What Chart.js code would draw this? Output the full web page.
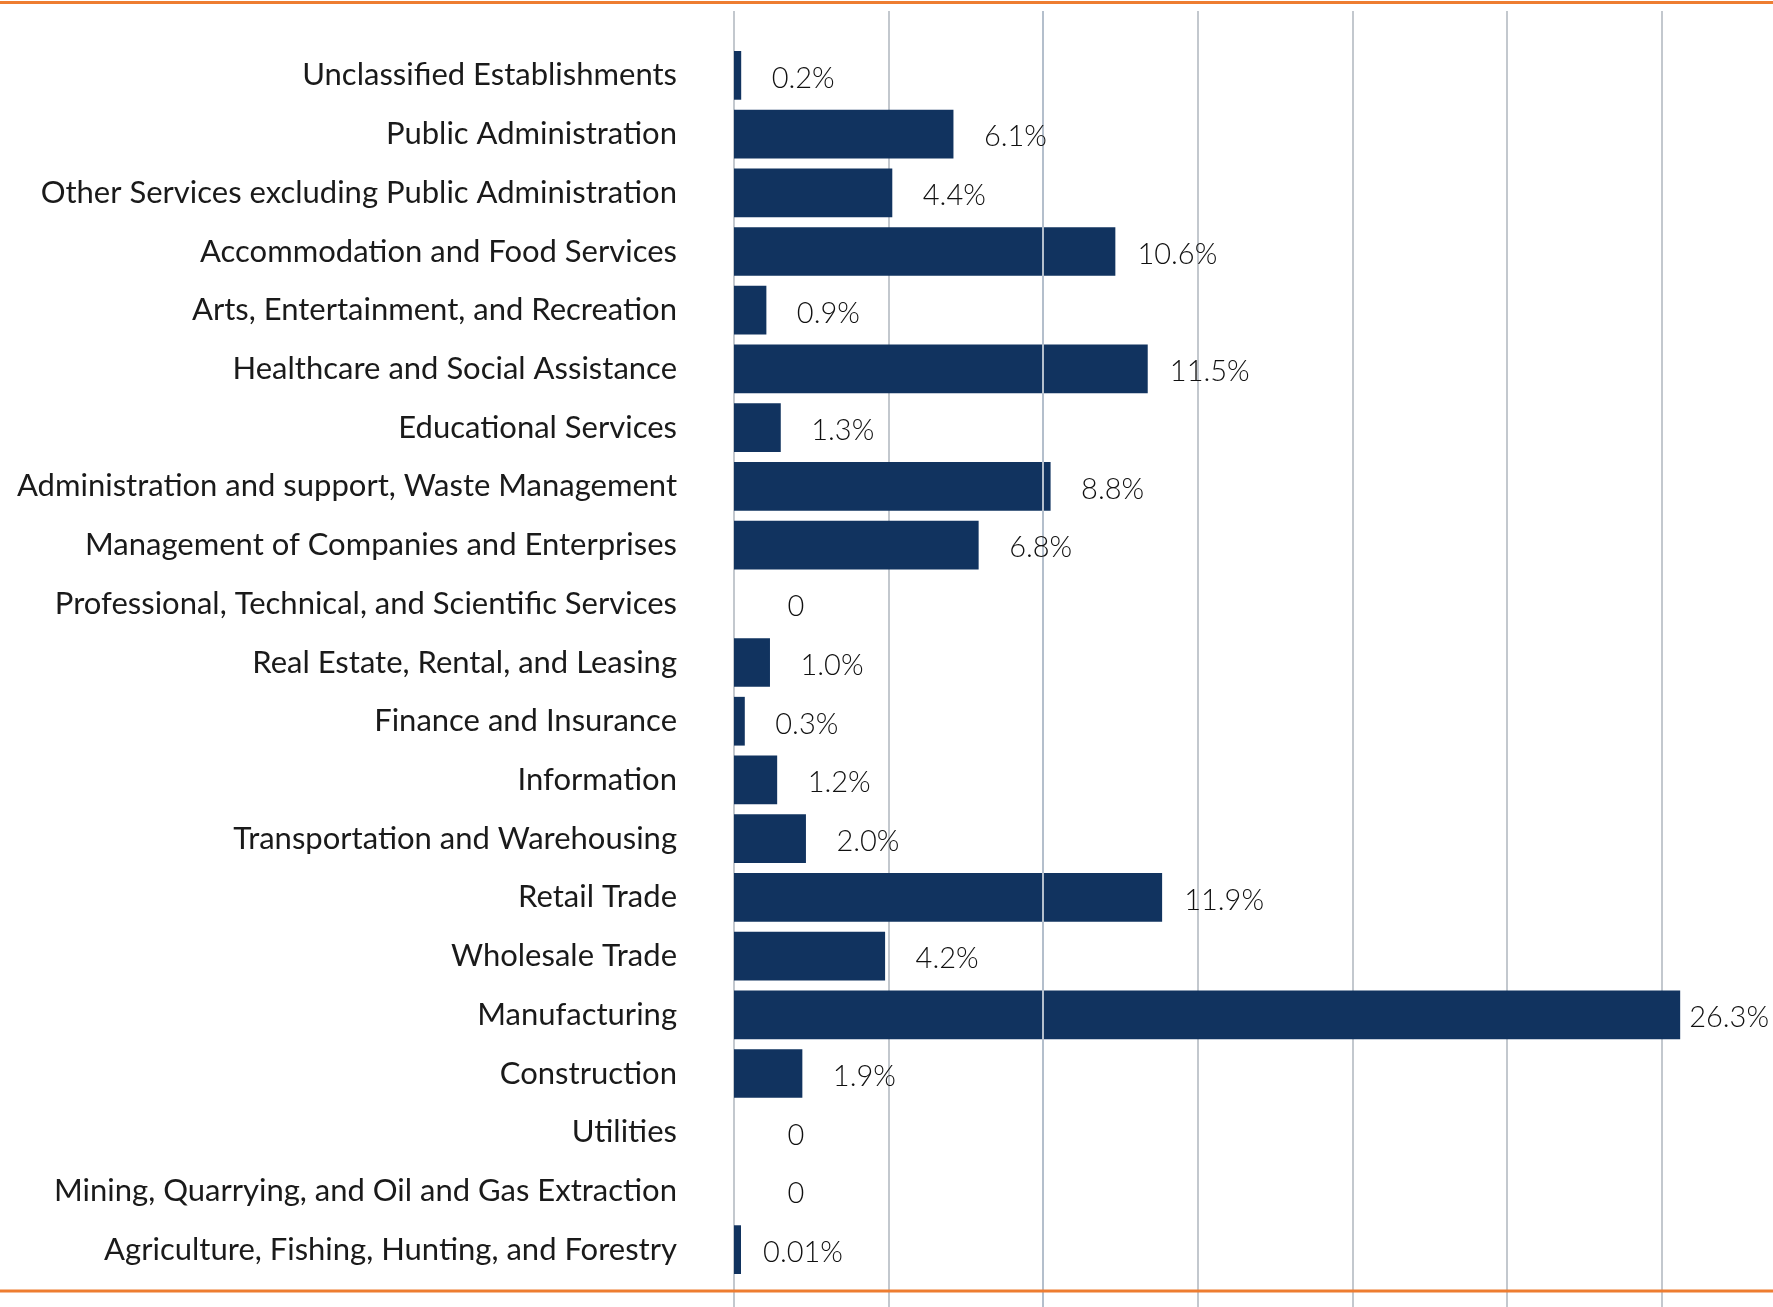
<!DOCTYPE html>
<html>
<head>
<meta charset="utf-8">
<title>Industry share</title>
<script src="https://cdn.jsdelivr.net/npm/chart.js@4.4.1/dist/chart.umd.min.js"></script>
<style>
  html, body { margin: 0; padding: 0; background: #fff; }
  #wrap { width: 1773px; height: 1307px; }
</style>
</head>
<body>
<div id="wrap"><canvas id="myChart" width="1773" height="1307"></canvas></div>
<script>
var industries = [
  "Unclassified Establishments",
  "Public Administration",
  "Other Services excluding Public Administration",
  "Accommodation and Food Services",
  "Arts, Entertainment, and Recreation",
  "Healthcare and Social Assistance",
  "Educational Services",
  "Administration and support, Waste Management",
  "Management of Companies and Enterprises",
  "Professional, Technical, and Scientific Services",
  "Real Estate, Rental, and Leasing",
  "Finance and Insurance",
  "Information",
  "Transportation and Warehousing",
  "Retail Trade",
  "Wholesale Trade",
  "Manufacturing",
  "Construction",
  "Utilities",
  "Mining, Quarrying, and Oil and Gas Extraction",
  "Agriculture, Fishing, Hunting, and Forestry"
];
var shares = [0.2, 6.1, 4.4, 10.6, 0.9, 11.5, 1.3, 8.8, 6.8, 0, 1.0, 0.3, 1.2, 2.0, 11.9, 4.2, 26.3, 1.9, 0, 0, 0.01];
var gridValues = [0, 4.3, 8.6, 12.9, 17.2, 21.5, 25.8];

function fmt(v) {
  if (v === 0) return "0";
  return (v < 0.1 ? v.toFixed(2) : v.toFixed(1)) + "%";
}

function vline(ctx, px, top, bottom) {
  ctx.beginPath();
  ctx.moveTo(px, top);
  ctx.lineTo(px, bottom);
  ctx.stroke();
}

var frame = {
  id: 'frame',
  beforeDatasetsDraw: function(chart) {
    var ctx = chart.ctx, x = chart.scales.x;
    ctx.save();
    ctx.strokeStyle = '#c3c8ce';
    ctx.lineWidth = 2;
    gridValues.forEach(function(v) {
      vline(ctx, Math.round(x.getPixelForValue(v)), 11, chart.height);
    });
    ctx.restore();
  },
  afterDatasetsDraw: function(chart) {
    var ctx = chart.ctx, x = chart.scales.x, y = chart.scales.y;
    var meta = chart.getDatasetMeta(0);
    ctx.save();
    // in the original one grid line shows through the bars
    ctx.strokeStyle = '#b4bfcc';
    ctx.lineWidth = 2;
    vline(ctx, Math.round(x.getPixelForValue(gridValues[2])), 11, chart.height);

    // orange rules top and bottom
    ctx.strokeStyle = '#ee7d31';
    ctx.lineWidth = 3;
    ctx.beginPath();
    ctx.moveTo(0, 2.5); ctx.lineTo(chart.width, 2.5);
    ctx.moveTo(0, 1291); ctx.lineTo(chart.width, 1291);
    ctx.stroke();

    // value labels
    ctx.font = '300 29px Lato';
    ctx.fillStyle = '#111';
    ctx.textAlign = 'center';
    ctx.textBaseline = 'middle';
    shares.forEach(function(v, i) {
      var end = v === 0 ? x.getPixelForValue(0) : meta.data[i].x;
      var t = fmt(v);
      var w = ctx.measureText(t).width;
      var cx = Math.min(end + 62, chart.width - 4 - w / 2);
      ctx.fillText(t, cx, y.getPixelForValue(i) + 3);
    });
    ctx.restore();
  }
};

var ctx = document.getElementById("myChart").getContext('2d');
var myChart = new Chart(ctx, {
  type: 'bar',
  data: {
    labels: industries,
    datasets: [{
      data: shares.map(function(v) { return v === 0 ? null : v; }),
      backgroundColor: '#11335f',
      borderWidth: 0,
      minBarLength: 7,
      categoryPercentage: 0.83,
      barPercentage: 1
    }]
  },
  options: {
    indexAxis: 'y',
    responsive: false,
    animation: false,
    layout: { padding: { top: 46, bottom: 28, left: 0, right: 0 } },
    plugins: { legend: { display: false }, tooltip: { enabled: false } },
    scales: {
      x: { display: false, min: 0, max: 28.88 },
      y: {
        offset: true,
        grid: { display: false, drawTicks: false },
        border: { display: false },
        ticks: {
          padding: 57,
          color: '#1a1a1a',
          font: { family: 'Lato', size: 31 }
        },
        afterFit: function(scale) {
          scale.width = 734;
          scale.paddingTop = 0;
          scale.paddingBottom = 0;
        }
      }
    }
  },
  plugins: [frame]
});
</script>
</body>
</html>
